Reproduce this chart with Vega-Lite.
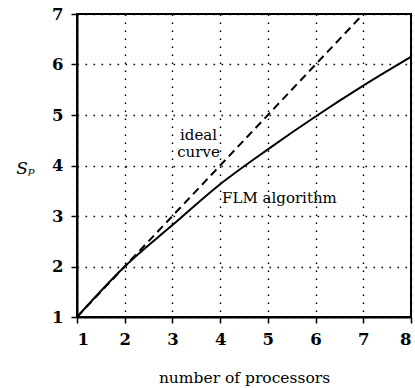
{
  "$schema": "https://vega.github.io/schema/vega-lite/v6.json",
  "width": 334,
  "height": 303,
  "autosize": "none",
  "padding": {"left": 77, "top": 14, "right": 4, "bottom": 71},
  "background": "white",
  "config": {
    "font": "DejaVu Serif",
    "view": {"stroke": "black", "strokeWidth": 2},
    "axis": {
      "domainColor": "black",
      "domainWidth": 2,
      "tickColor": "black",
      "tickWidth": 1.5,
      "tickSize": 6,
      "labelColor": "black",
      "labelFont": "DejaVu Serif",
      "labelFontWeight": "bold",
      "labelFontSize": 16.5,
      "grid": true,
      "gridColor": "black",
      "gridDash": [1.6, 6.4],
      "gridWidth": 1.4,
      "gridOpacity": 1,
      "titleColor": "black",
      "titleFont": "DejaVu Serif",
      "titleFontWeight": "normal"
    }
  },
  "datasets": {
    "ideal": [{"n": 1, "s": 1}, {"n": 7, "s": 7}],
    "flm": [
      {"n": 1, "s": 1},
      {"n": 2, "s": 2},
      {"n": 3, "s": 2.82},
      {"n": 4, "s": 3.63},
      {"n": 5, "s": 4.32},
      {"n": 6, "s": 4.97},
      {"n": 7, "s": 5.58},
      {"n": 8, "s": 6.15}
    ],
    "labels": [
      {"n": 3.16, "s": 4.6, "label": "ideal"},
      {"n": 3.1, "s": 4.26, "label": "curve"},
      {"n": 4.04, "s": 3.36, "label": "FLM algorithm"}
    ]
  },
  "encoding": {
    "x": {
      "field": "n",
      "type": "quantitative",
      "scale": {"domain": [1, 8], "nice": false, "zero": false},
      "axis": {
        "values": [1, 2, 3, 4, 5, 6, 7, 8],
        "title": "number of processors",
        "titleFontSize": 15.5,
        "titleBaseline": "alphabetic",
        "titleY": 65,
        "labelPadding": 8
      }
    },
    "y": {
      "field": "s",
      "type": "quantitative",
      "scale": {"domain": [1, 7], "nice": false, "zero": false},
      "axis": {
        "values": [1, 2, 3, 4, 5, 6, 7],
        "title": "Sₚ",
        "titleAngle": 0,
        "titleX": -52,
        "titleY": 154,
        "titleAlign": "center",
        "titleBaseline": "middle",
        "titleFontStyle": "italic",
        "titleFontSize": 17,
        "labelPadding": 8
      }
    }
  },
  "layer": [
    {
      "data": {"name": "ideal"},
      "mark": {"type": "line", "color": "black", "strokeWidth": 2, "strokeDash": [8, 5]}
    },
    {
      "data": {"name": "flm"},
      "mark": {"type": "line", "color": "black", "strokeWidth": 2, "interpolate": "monotone"}
    },
    {
      "data": {"name": "labels"},
      "mark": {"type": "text", "align": "left", "baseline": "middle", "fontSize": 15, "color": "black", "font": "DejaVu Serif"},
      "encoding": {"text": {"field": "label"}}
    }
  ]
}
